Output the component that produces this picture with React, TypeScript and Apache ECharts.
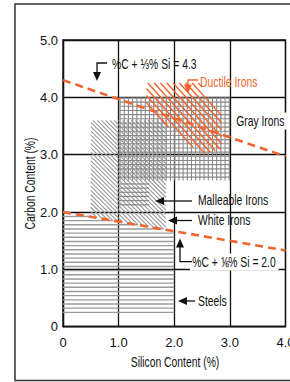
import React, { useEffect, useRef } from 'react';
import * as echarts from 'echarts';

// ---- axes ----
const xTicks = [0, 1, 2, 3, 4];
const xTickLabels = ['0', '1.0', '2.0', '3.0', '4.0'];
const yTicks = [0, 1, 2, 3, 4, 5];
const yTickLabels = ['0', '1.0', '2.0', '3.0', '4.0', '5.0'];
const xTitle = 'Silicon Content (%)';
const yTitle = 'Carbon Content (%)';

// ---- boundary lines (Si %, C %) ----
const eutecticLine = [[0, 4.3], [4, 2.97]]; // %C + 1/3 %Si = 4.3
const steelLimitLine = [[0, 2.0], [4, 1.33]]; // %C + 1/6 %Si = 2.0

// ---- composition regions (Si %, C %) ----
const steels = [[0, 0.24], [2, 0.24], [2, 1.67], [0, 2.0]];
const whiteIrons = [[0.5, 3.6], [1.85, 3.6], [1.85, 1.69], [0.5, 1.92]];
const malleableIrons = [[1.0, 2.1], [1.55, 2.1], [1.55, 2.5], [1.0, 2.5]];
const grayIrons = [[1.0, 2.55], [3.0, 2.55], [3.0, 4.0], [1.0, 4.0]];
const ductileIrons = [[1.5, 4.25], [2.45, 4.25], [2.85, 3.7], [2.85, 3.1], [2.5, 3.0], [1.5, 3.8]];

const FONT = '"Liberation Sans", Arial, sans-serif';
const NARROW = 0.74;
const ORANGE = '#f0652f';
const INK = '#111';

type Layer = { angle: number; spacing: number; color: string; width: number; fromEnd?: boolean };

function hatchLines(pts: number[][], angleDeg: number, spacing: number, fromEnd?: boolean) {
  const a = (angleDeg * Math.PI) / 180;
  const d = [Math.cos(a), Math.sin(a)];
  const n = [-d[1], d[0]];
  const proj = pts.map((p) => p[0] * n[0] + p[1] * n[1]);
  const pmin = Math.min(...proj);
  const pmax = Math.max(...proj);
  const segs: number[][] = [];
  const count = Math.floor((pmax - pmin - 1) / spacing);
  for (let k = 0; k <= count; k++) {
    const o = fromEnd ? pmax - 0.6 - k * spacing : pmin + 0.6 + k * spacing;
    const p0 = [n[0] * o, n[1] * o];
    const ts: number[] = [];
    for (let i = 0; i < pts.length; i++) {
      const A = pts[i];
      const B = pts[(i + 1) % pts.length];
      const e = [B[0] - A[0], B[1] - A[1]];
      const den = d[0] * e[1] - d[1] * e[0];
      if (Math.abs(den) < 1e-9) continue;
      const w = [A[0] - p0[0], A[1] - p0[1]];
      const t = (w[0] * e[1] - w[1] * e[0]) / den;
      const s = (w[0] * d[1] - w[1] * d[0]) / den;
      if (s >= -1e-9 && s <= 1 + 1e-9) ts.push(t);
    }
    if (ts.length < 2) continue;
    const t0 = Math.min(...ts);
    const t1 = Math.max(...ts);
    if (t1 - t0 < 0.5) continue;
    segs.push([p0[0] + t0 * d[0], p0[1] + t0 * d[1], p0[0] + t1 * d[0], p0[1] + t1 * d[1]]);
  }
  return segs;
}

function hatchSeries(name: string, poly: number[][], layers: Layer[], z: number) {
  return {
    type: 'custom',
    name,
    z,
    silent: true,
    coordinateSystem: 'cartesian2d',
    data: poly,
    renderItem: (params: any, api: any) => {
      if (params.dataIndex !== 0) return null;
      const pts = poly.map((p) => api.coord(p));
      const children: any[] = [];
      layers.forEach((L) => {
        hatchLines(pts, L.angle, L.spacing, L.fromEnd).forEach((s) => {
          children.push({
            type: 'line',
            shape: { x1: s[0], y1: s[1], x2: s[2], y2: s[3] },
            style: { stroke: L.color, lineWidth: L.width },
          });
        });
      });
      return { type: 'group', children };
    },
  };
}

function arrowHead(tipX: number, tipY: number, dir: 'down' | 'up' | 'left', color: string) {
  const L = 9;
  const H = 4;
  let points: number[][];
  if (dir === 'down') points = [[tipX, tipY], [tipX - H, tipY - L], [tipX + H, tipY - L]];
  else if (dir === 'up') points = [[tipX, tipY], [tipX - H, tipY + L], [tipX + H, tipY + L]];
  else points = [[tipX, tipY], [tipX + L, tipY - H], [tipX + L, tipY + H]];
  return { type: 'polygon', shape: { points }, style: { fill: color }, z: 100 };
}

function stub(points: number[][], color: string) {
  return { type: 'polyline', shape: { points }, style: { stroke: color, lineWidth: 1.3, fill: null }, z: 100 };
}

function label(text: string, x: number, y: number, color: string, opts: any = {}) {
  return {
    type: 'text',
    x,
    y,
    z: 99,
    scaleX: NARROW,
    rotation: opts.rotation || 0,
    style: {
      text,
      fill: color,
      fontSize: 14,
      fontFamily: FONT,
      align: opts.align || 'left',
      verticalAlign: 'middle',
      backgroundColor: opts.bg ? '#fff' : undefined,
      padding: opts.bg ? [2, 3, 1, 3] : undefined,
    },
  };
}

export default function App() {
  const ref = useRef<HTMLDivElement>(null);
  useEffect(() => {
    if (!ref.current) return;
    const chart = echarts.init(ref.current, null, { renderer: 'svg' });
    const axisCommon = {
      type: 'value',
      interval: 1,
      axisTick: { show: false },
      axisLine: { show: true, lineStyle: { color: INK, width: 1.3 } },
      splitLine: { show: true, lineStyle: { color: INK, width: 1.3 } },
      axisLabel: { color: INK, fontSize: 13, fontFamily: FONT },
    };
    chart.setOption({
      animation: false,
      backgroundColor: '#fff',
      grid: {
        left: 63,
        top: 40,
        width: 222.5,
        height: 286.7,
        show: true,
        borderColor: INK,
        borderWidth: 1.3,
        backgroundColor: 'transparent',
        outerBoundsMode: 'none',
      },
      xAxis: {
        ...axisCommon,
        min: 0,
        max: 4,
        axisLabel: {
          ...axisCommon.axisLabel,
          margin: 9,
          alignMaxLabel: 'center',
          hideOverlap: false,
          formatter: (v: number) => xTickLabels[xTicks.indexOf(v)],
        },
      },
      yAxis: {
        ...axisCommon,
        min: 0,
        max: 5,
        axisLabel: {
          ...axisCommon.axisLabel,
          margin: 5,
          formatter: (v: number) => yTickLabels[yTicks.indexOf(v)],
        },
      },
      series: [
        hatchSeries('Steels', steels, [{ angle: 0, spacing: 4.17, color: '#9a9a9a', width: 1.4, fromEnd: true }], 2),
        hatchSeries('White Irons', whiteIrons, [{ angle: 45, spacing: 3.0, color: '#9a9a9a', width: 1.1 }], 2),
        hatchSeries('Malleable Irons', malleableIrons, [{ angle: 0, spacing: 4.17, color: '#8c8c8c', width: 1.3 }], 3),
        hatchSeries(
          'Gray Irons',
          grayIrons,
          [
            { angle: 0, spacing: 4.17, color: '#888', width: 1.1 },
            { angle: 90, spacing: 4.2, color: '#888', width: 1.1 },
          ],
          3
        ),
        hatchSeries('Ductile Irons', ductileIrons, [{ angle: 48, spacing: 4.7, color: ORANGE, width: 1.4 }], 4),
        {
          type: 'line',
          name: '%C + 1/3 %Si = 4.3',
          data: eutecticLine,
          symbol: 'none',
          silent: true,
          z: 10,
          lineStyle: { color: ORANGE, width: 2.6, type: [8, 5] },
        },
        {
          type: 'line',
          name: '%C + 1/6 %Si = 2.0',
          data: steelLimitLine,
          symbol: 'none',
          silent: true,
          z: 10,
          lineStyle: { color: ORANGE, width: 2.6, type: [8, 5] },
        },
      ],
      graphic: [
        {
          type: 'rect',
          shape: { x: 15, y: 4, width: 290, height: 376.5 },
          style: { fill: null, stroke: '#333', lineWidth: 1.5 },
          z: 0,
          silent: true,
        },
        // axis titles
        label(xTitle, 175, 362, INK, { align: 'center' }),
        label(yTitle, 30, 183.5, INK, { align: 'center', rotation: Math.PI / 2 }),
        // %C + 1/3 %Si = 4.3
        stub([[107, 63], [97, 63], [97, 74]], INK),
        arrowHead(97, 81, 'down', INK),
        label('%C + ⅓% Si = 4.3', 112, 64.5, INK),
        // Ductile Irons
        stub([[198, 80], [188, 80], [188, 87]], ORANGE),
        arrowHead(188, 93.5, 'down', ORANGE),
        label('Ductile Irons', 200, 82, ORANGE),
        // Gray Irons
        label('Gray Irons', 234, 121, INK, { bg: true }),
        // Malleable Irons
        stub([[192, 201], [162, 201]], INK),
        arrowHead(155, 201, 'left', INK),
        label('Malleable Irons', 198, 200.5, INK),
        // White Irons
        stub([[192, 220.5], [175, 220.5]], INK),
        arrowHead(168, 220.5, 'left', INK),
        label('White Irons', 198, 220.5, INK),
        // %C + 1/6 %Si = 2.0
        stub([[192, 261.7], [180, 261.7], [180, 245]], INK),
        arrowHead(180, 238.5, 'up', INK),
        label('%C + ⅙% Si = 2.0', 190, 262, INK, { bg: true }),
        // Steels
        stub([[195, 301], [185, 301]], INK),
        arrowHead(178, 301, 'left', INK),
        label('Steels', 198, 301, INK),
      ],
    });
    return () => chart.dispose();
  }, []);
  return <div ref={ref} style={{ position: 'fixed', left: 0, top: 0, width: 290, height: 382 }} />;
}
